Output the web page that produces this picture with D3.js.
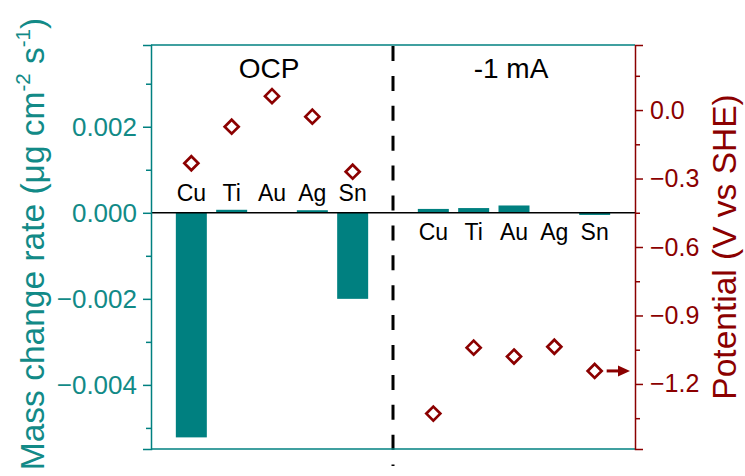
<!DOCTYPE html>
<html>
<head>
<meta charset="utf-8">
<script src="https://cdn.jsdelivr.net/npm/d3@7"></script>
<style>
  html, body { margin: 0; padding: 0; background: #fff; }
  svg { display: block; font-family: "Liberation Sans", Arial, sans-serif; }
</style>
</head>
<body>
<svg id="chart" width="745" height="476"></svg>
<script>
// ---- data ----
const categories = ["Cu", "Ti", "Au", "Ag", "Sn"];
const conditions = ["OCP", "-1 mA"];
const massOCP = [-0.00522, 0.00007, 0, 0.00006, -0.00200];
const massCurrent = [0.00009, 0.00011, 0.00017, 0, -0.00005];
const potOCP = [-0.233, -0.073, 0.061, -0.029, -0.270];
const potCurrent = [-1.330, -1.041, -1.080, -1.037, -1.143];
const leftTicks = [-0.004, -0.002, 0, 0.002];
const leftMinor = [-0.005, -0.003, -0.001, 0.001, 0.003];
const rightTicks = [-1.2, -0.9, -0.6, -0.3, 0.0];
const rightMinor = [-1.35, -1.05, -0.75, -0.45, -0.15, 0.15];

const teal = "#008080", tealText = "#128a87", red = "#8b0000";
const svg = d3.select("#chart");
const L = 151, R = 635, T = 45, B = 449;

const x = d3.scaleLinear().domain([0, 12]).range([L, R]);
const yL = d3.scaleLinear().domain([-0.00549, 0.0039]).range([B, T]);
const yR = d3.scaleLinear().domain([-1.485, 0.285]).range([B, T]);

const groups = [
  { name: conditions[0], offset: 1, mass: massOCP, pot: potOCP, labelY: 201 },
  { name: conditions[1], offset: 7, mass: massCurrent, pot: potCurrent, labelY: 240 }
];
const barW = 31;

// bars
groups.forEach(g => {
  svg.append("g").selectAll("rect").data(g.mass).join("rect")
    .attr("x", (d, i) => x(i + g.offset) - barW / 2)
    .attr("width", barW)
    .attr("y", d => Math.min(yL(d), yL(0)))
    .attr("height", d => Math.abs(yL(d) - yL(0)))
    .attr("fill", teal);
});

// zero line
svg.append("line").attr("x1", L).attr("x2", R).attr("y1", yL(0)).attr("y2", yL(0))
  .attr("stroke", "#000").attr("stroke-width", 1.5);

// dashed divider
svg.append("line").attr("x1", x(6)).attr("x2", x(6)).attr("y1", T + 1).attr("y2", 466)
  .attr("stroke", "#000").attr("stroke-width", 3).attr("stroke-dasharray", "15,14.9");

// diamonds
const dsz = 7;
const diamond = `M0,${-dsz}L${dsz},0L0,${dsz}L${-dsz},0Z`;
groups.forEach(g => {
  svg.append("g").selectAll("path").data(g.pot).join("path")
    .attr("d", diamond)
    .attr("transform", (d, i) => `translate(${x(i + g.offset)},${yR(d)})`)
    .attr("fill", "none").attr("stroke", red).attr("stroke-width", 2.7);
});

// arrow
const ay = yR(potCurrent[4]);
svg.append("line").attr("x1", x(11) + 12).attr("x2", x(12) - 15).attr("y1", ay).attr("y2", ay)
  .attr("stroke", red).attr("stroke-width", 3);
svg.append("path")
  .attr("d", `M${x(12) - 5},${ay}L${x(12) - 17},${ay - 5.5}L${x(12) - 17},${ay + 5.5}Z`)
  .attr("fill", red);

// category labels
groups.forEach(g => {
  svg.append("g").selectAll("text").data(categories).join("text")
    .attr("x", (d, i) => x(i + g.offset))
    .attr("y", g.labelY)
    .attr("text-anchor", "middle").attr("font-size", 23).attr("fill", "#000")
    .text(d => d);
  svg.append("text").attr("x", x(g.offset + 2) - 3).attr("y", 78)
    .attr("text-anchor", "middle").attr("font-size", 28).attr("fill", "#000")
    .text(g.name);
});

// frame
svg.append("line").attr("x1", L).attr("x2", R).attr("y1", T).attr("y2", T).attr("stroke", teal).attr("stroke-width", 1.5);
svg.append("line").attr("x1", L).attr("x2", R).attr("y1", B).attr("y2", B).attr("stroke", teal).attr("stroke-width", 1.5);

// left axis
const gl = svg.append("g").attr("transform", `translate(${L},0)`);
gl.call(d3.axisLeft(yL).tickValues(leftTicks).tickSize(8).tickPadding(6)
  .tickFormat(d => d3.format(".3f")(d).replace("-", "\u2212")));
gl.call(g => g.select(".domain").attr("stroke", teal).attr("stroke-width", 1.5));
gl.selectAll(".tick line").attr("stroke", teal).attr("stroke-width", 1.5);
gl.selectAll(".tick text").attr("fill", tealText).attr("font-size", 26).attr("font-family", "Liberation Sans, Arial, sans-serif");
svg.append("g").attr("transform", `translate(${L},0)`)
  .call(d3.axisLeft(yL).tickValues(leftMinor).tickSize(5).tickFormat(""))
  .call(g => g.select(".domain").remove())
  .selectAll(".tick line").attr("stroke", teal).attr("stroke-width", 1.5);

// right axis
const gr = svg.append("g").attr("transform", `translate(${R},0)`);
gr.call(d3.axisRight(yR).tickValues(rightTicks).tickSize(8).tickPadding(7)
  .tickFormat(d => d3.format(".1f")(d).replace("-", "\u2212")));
gr.call(g => g.select(".domain").attr("stroke", red).attr("stroke-width", 1.5));
gr.selectAll(".tick line").attr("stroke", red).attr("stroke-width", 1.5);
gr.selectAll(".tick text").attr("fill", red).attr("font-size", 25).attr("font-family", "Liberation Sans, Arial, sans-serif");
svg.append("g").attr("transform", `translate(${R},0)`)
  .call(d3.axisRight(yR).tickValues(rightMinor).tickSize(5).tickFormat(""))
  .call(g => g.select(".domain").remove())
  .selectAll(".tick line").attr("stroke", red).attr("stroke-width", 1.5);

// axis titles
const lt = svg.append("text")
  .attr("transform", `translate(44,244) rotate(-90)`)
  .attr("text-anchor", "middle").attr("font-size", 33.5).attr("fill", tealText);
lt.append("tspan").text("Mass change rate (\u03bcg cm");
lt.append("tspan").attr("font-size", 20.5).attr("dy", -14).text("-2");
lt.append("tspan").attr("dy", 14).text(" s");
lt.append("tspan").attr("font-size", 20.5).attr("dy", -14).text("-1");
lt.append("tspan").attr("dy", 14).text(")");

svg.append("text")
  .attr("transform", `translate(736,${(T + B) / 2}) rotate(-90)`)
  .attr("text-anchor", "middle").attr("font-size", 33.5).attr("fill", red)
  .text("Potential (V vs SHE)");
</script>
</body>
</html>
